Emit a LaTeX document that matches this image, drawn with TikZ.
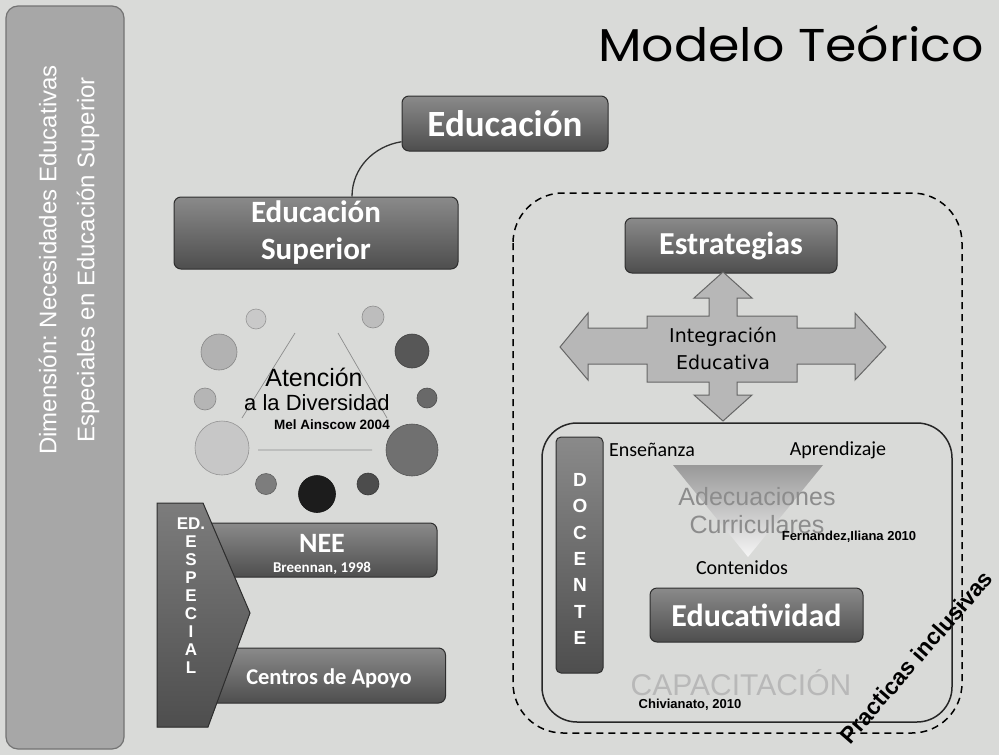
\documentclass[tikz,border=0pt]{standalone}
\usepackage{fontspec}
\setmainfont{Liberation Sans}
\newfontfamily\carlito{Carlito}
\newfontfamily\dejavu{DejaVu Sans}
\newfontfamily\poppins{Poppins}
\frenchspacing
\definecolor{bg}{HTML}{D9DAD8}
\definecolor{boxtop}{HTML}{8A8A8A}
\definecolor{boxbot}{HTML}{4E4E4E}
\definecolor{boxline}{HTML}{2E2E2E}
\definecolor{barfill}{HTML}{A7A7A7}
\definecolor{arrowfill}{HTML}{B7B7B7}
\definecolor{thinline}{HTML}{8C8C8C}
\newcommand{\fs}[1]{\fontsize{#1}{#1}\selectfont}
\newcommand{\fsb}[2]{\fontsize{#1}{#2}\selectfont}
\tikzset{
  darkbox/.style={draw=boxline, line width=1pt, rounded corners=7pt,
    top color=boxtop, bottom color=boxbot, text=white, align=center,
    inner sep=0pt},
  ball/.style n args={2}{circle, inner sep=0pt, minimum size=#1, fill=black!#2, draw=black!#2!white!75!black, line width=0.6pt},
  plain/.style={inner sep=0pt, align=center},
  vletters/.style={inner sep=0pt, align=center, text=white},
}
\begin{document}
\begin{tikzpicture}[x=1pt,y=-1pt]
\useasboundingbox (0,0) rectangle (999,755);
\fill[bg] (0,0) rectangle (999,755);

% left bar
\node[draw=black!55, line width=1.2pt, fill=barfill, rounded corners=12pt,
  minimum width=118, minimum height=743, inner sep=0pt] (bar) at (65,377.5) {};
\node[plain, rotate=90, text=white, font=\fsb{24}{38}] (dim) at (69,260)
  {Dimensión: Necesidades Educativas\\Especiales en Educación Superior};

% title
\node[plain, anchor=base, xscale=1.1, font=\poppins\fs{46}] (title) at (791,61) {Modelo Teórico};

% left column
\node[darkbox, minimum width=206, minimum height=55, font=\carlito\bfseries\fs{37}] (edu) at (505,123.5) {Educación};
\node[darkbox, minimum width=284, minimum height=72, font=\carlito\bfseries\fsb{31}{37}] (sup) at (316,233) {Educación\\Superior};
\draw[line width=1.3pt, black!80] (edu.190) .. controls (374,146) and (352,168) .. ([xshift=36pt]sup.north);

% circles
\node[ball={20}{21}] (c1) at (256,319) {};
\node[ball={22}{26}] (c2) at (373,317) {};
\node[ball={36}{30}] (c3) at (219,352) {};
\node[ball={34}{66}] (c4) at (412,351) {};
\node[ball={22}{29}] (c5) at (205,399) {};
\node[ball={20}{59}] (c6) at (427,398) {};
\node[ball={54}{22}] (c7) at (222,448) {};
\node[ball={52}{56}] (c8) at (412,450) {};
\node[ball={21}{51}] (c9) at (266,484) {};
\node[ball={37}{89}] (c10) at (317,494) {};
\node[ball={22}{70}] (c11) at (368,484) {};
\coordinate (t1) at (295,333);
\coordinate (t2) at (242,418);
\coordinate (t3) at (338,333);
\coordinate (t4) at (387,418);
\coordinate (t5) at (258,450);
\coordinate (t6) at (372,450);
\draw[thinline, line width=0.7pt] (t1) -- (t2) (t3) -- (t4) (t5) -- (t6);
\node[plain, font=\fs{25}] (aten) at (314,377) {Atención};
\node[plain, font=\fs{22}] (div) at (317,403) {a la Diversidad};
\node[plain, font=\bfseries\fs{13.5}] (mel) at (332,425) {Mel Ainscow 2004};

% NEE and Centros
\node[darkbox, minimum width=232, minimum height=54] (nee) at (321,550) {};
\node[plain, text=white, font=\carlito\bfseries\fs{28}] (neet) at (322,543) {NEE};
\node[plain, text=white, font=\carlito\bfseries\fs{15}] (bre) at (322,568) {Breennan, 1998};
\node[darkbox, minimum width=241, minimum height=55] (cen) at (325,675.5) {};
\node[plain, text=white, font=\carlito\bfseries\fs{22.5}] (cent) at (329,678) {Centros de Apoyo};
\filldraw[draw=boxline, line width=1pt, top color=boxtop!90!black, bottom color=boxbot]
  (157,503) -- (203,503) -- (250,613) -- (208,727) -- (157,727) -- cycle;
\node[vletters, font=\bfseries\fsb{17}{18}] (esp) at (191,596) {ED.\\E\\S\\P\\E\\C\\I\\A\\L};

% right side
\draw[line width=1.5pt, dash pattern=on 7pt off 5pt, rounded corners=50pt] (513,193) rectangle (962,733);
\draw[line width=1.5pt, rounded corners=35pt, black!85] (542,423) rectangle (952,722);
\node[darkbox, minimum width=212, minimum height=55, font=\carlito\bfseries\fs{32}] (est) at (731,245.5) {Estrategias};

\filldraw[fill=arrowfill, draw=black!60, line width=1pt, line join=miter]
  (723,272) -- (752,298) -- (737,298) -- (737,316) -- (797,316) -- (797,328)
  -- (855,328) -- (855,313) -- (886,347) -- (855,380) -- (855,364) -- (797,364)
  -- (797,382) -- (737,382) -- (737,395) -- (752,395) -- (723,421) -- (694,395)
  -- (709,395) -- (709,382) -- (647,382) -- (647,364) -- (588,364) -- (588,380)
  -- (560,347) -- (588,313) -- (588,328) -- (647,328) -- (647,316) -- (709,316)
  -- (709,298) -- (694,298) -- cycle;
\node[plain, font=\dejavu\fsb{19}{27}] (integ) at (723,349) {Integración\\Educativa};

\node[darkbox, rounded corners=5pt, minimum width=47, minimum height=236] (doc) at (579.5,555) {};
\node[vletters, font=\bfseries\fsb{19}{26.3}] (doct) at (580,559) {D\\O\\C\\E\\N\\T\\E};

\shade[top color=black!40, bottom color=black!4] (673,465) -- (823,465) -- (748,557) -- cycle;
\node[plain, font=\carlito\fs{20}] (ens) at (652,450) {Enseñanza};
\node[plain, font=\carlito\fs{20}] (apr) at (838,450) {Aprendizaje};
\node[plain, text=black!45, font=\fsb{25}{28}] (adec) at (757,511) {Adecuaciones\\Curriculares};
\node[plain, font=\bfseries\fs{13}] (fer) at (849,537) {Fernandez,Iliana 2010};
\node[plain, font=\carlito\fs{20}] (cont) at (742,568) {Contenidos};
\node[darkbox, minimum width=213, minimum height=54, font=\carlito\bfseries\fs{32}] (educ) at (756.5,615) {Educatividad};
\node[plain, text=black!28, font=\fs{30}] (cap) at (741,683) {CAPACITACIÓN};
\node[plain, font=\bfseries\fs{13}] (chi) at (690,705) {Chivianato, 2010};
\node[plain, rotate=49, font=\bfseries\fs{23}] (prac) at (916,657) {Practicas inclusivas};
\end{tikzpicture}
\end{document}
